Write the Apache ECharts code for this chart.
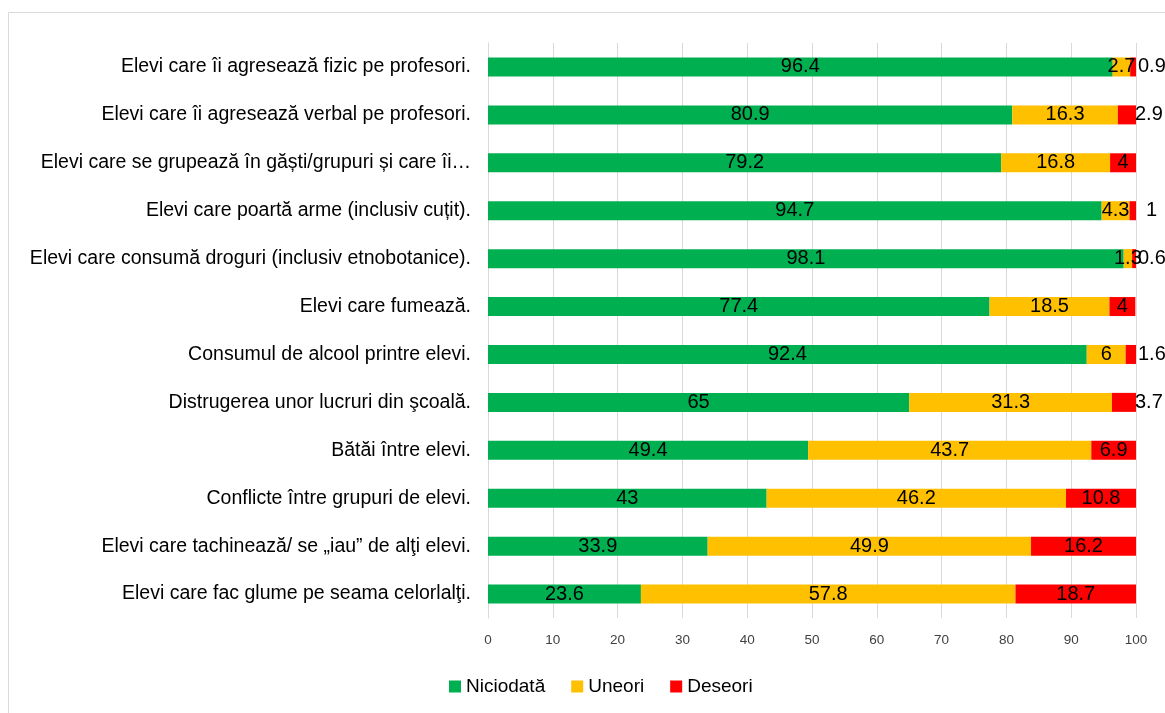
<!DOCTYPE html>
<html><head><meta charset="utf-8">
<script src="https://cdn.jsdelivr.net/npm/echarts@6/dist/echarts.min.js"></script>
<style>html,body{margin:0;padding:0;background:#fff}#c{width:1165px;height:713px}</style>
</head><body><div id="c"></div>
<script>
const categories = [
  "Elevi care îi agresează fizic pe profesori.",
  "Elevi care îi agresează verbal pe profesori.",
  "Elevi care se grupează în găști/grupuri și care îi…",
  "Elevi care poartă arme (inclusiv cuțit).",
  "Elevi care consumă droguri (inclusiv etnobotanice).",
  "Elevi care fumează.",
  "Consumul de alcool printre elevi.",
  "Distrugerea unor lucruri din şcoală.",
  "Bătăi între elevi.",
  "Conflicte între grupuri de elevi.",
  "Elevi care tachinează/ se „iau” de alţi elevi.",
  "Elevi care fac glume pe seama celorlalţi."
];
const niciodata = [96.4, 80.9, 79.2, 94.7, 98.1, 77.4, 92.4, 65, 49.4, 43, 33.9, 23.6];
const uneori    = [2.7, 16.3, 16.8, 4.3, 1.3, 18.5, 6, 31.3, 43.7, 46.2, 49.9, 57.8];
const deseori   = [0.9, 2.9, 4, 1, 0.6, 4, 1.6, 3.7, 6.9, 10.8, 16.2, 18.7];
const seriesNames = ["Niciodată", "Uneori", "Deseori"];
const xTicks = [0,10,20,30,40,50,60,70,80,90,100];

const colors = ["#00b050", "#ffc000", "#ff0000"];
const font = "Liberation Sans, Arial, sans-serif";
const chart = echarts.init(document.getElementById('c'));
const lbl = {show: true, position: 'inside', color: '#000', fontSize: 20, fontFamily: font};
function mk(name, vals, i) {
  return {
    name: name, type: 'bar', stack: 's', barWidth: 19,
    itemStyle: {color: colors[i]},
    label: lbl,
    emphasis: {disabled: true},
    data: vals.map(v => {
      const d = {value: v};
      if (i === 2 && v < 3.8) {
        d.label = {position: 'right', distance: v === 1 ? 10 : (v > 2.5 ? -1 : 2)};
      }
      return d;
    })
  };
}
chart.setOption({
  animation: false,
  graphic: [{type: 'rect', shape: {x: 8.5, y: 12.5, width: 1200, height: 720},
    style: {fill: 'none', stroke: '#d9d9d9', lineWidth: 1}}],
  grid: {left: 488, right: 29, top: 43, bottom: 95},
  legend: {bottom: 12, left: 444, itemWidth: 12, itemHeight: 12, itemGap: 26,
    icon: 'rect', textStyle: {fontSize: 19, fontFamily: font, color: '#000'},
    data: seriesNames},
  xAxis: {type: 'value', min: 0, max: 100, interval: 10,
    axisLine: {show: false}, axisTick: {show: false},
    axisLabel: {fontSize: 13.5, color: '#404040', fontFamily: font, margin: 15,
      formatter: v => xTicks.includes(v) ? String(v) : ''},
    splitLine: {lineStyle: {color: '#d9d9d9', width: 1}}},
  yAxis: {type: 'category', data: categories, inverse: true,
    axisLine: {show: true, lineStyle: {color: '#d9d9d9'}}, axisTick: {show: false},
    axisLabel: {fontSize: 19.5, color: '#000', fontFamily: font, margin: 17}},
  series: [mk(seriesNames[0], niciodata, 0), mk(seriesNames[1], uneori, 1), mk(seriesNames[2], deseori, 2)]
});
</script></body></html>
